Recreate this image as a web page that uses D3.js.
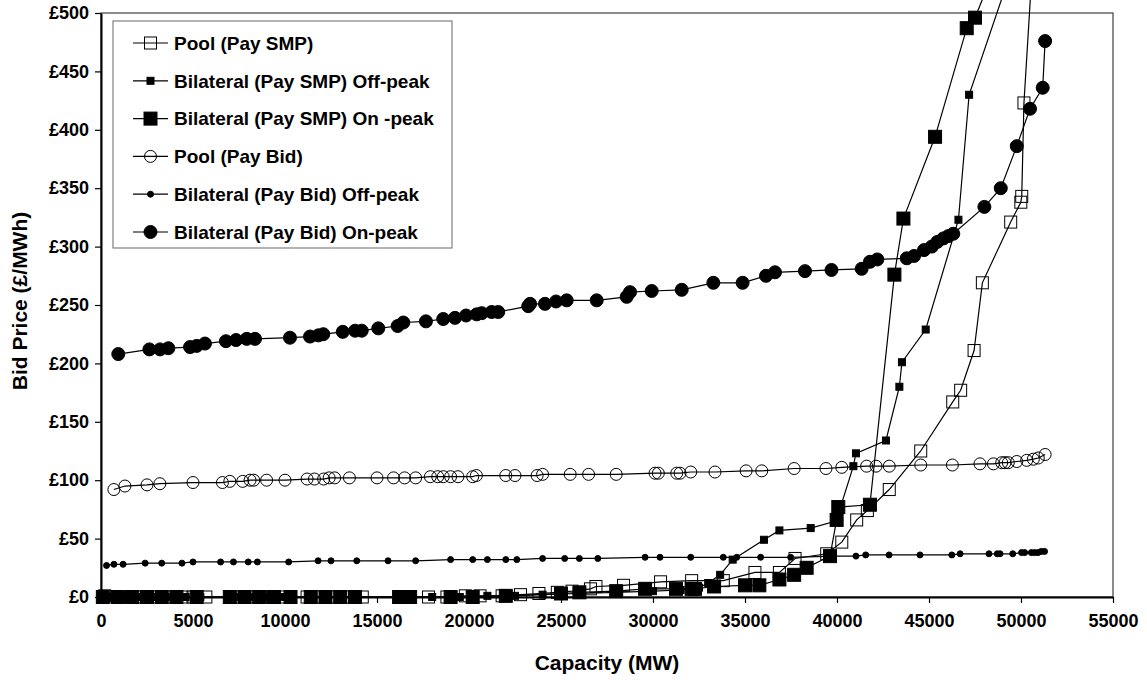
<!DOCTYPE html>
<html>
<head>
<meta charset="utf-8">
<script src="https://cdn.jsdelivr.net/npm/d3@7"></script>
<style>
  body { margin: 0; background: #fff; }
  text { font-family: "Liberation Sans", Arial, sans-serif; font-weight: bold; fill: #000; }
</style>
</head>
<body>
<div class="container"></div>
<script>
// Pool (Pay SMP)
const poolSmpCap = [200, 1000, 1600, 2300, 3000, 3700, 4400, 5000, 5700, 7300, 8000, 8700, 9300, 10000, 11200, 12000, 12800, 13500, 14200, 16300, 17800, 18800, 19800, 20600, 21800, 22800, 23800, 24800, 25600, 26600, 26900, 28400, 30410, 32100, 33820, 35540, 36870, 37720, 39440, 40260, 41070, 41650, 42840, 44550, 46290, 46720, 47450, 47900, 49440, 49990, 50040, 50160, 50850];
const poolSmpPrice = [1, 0, 0, 0, 0, 0, 0, 0, 0, 0, 0, 0, 0, 0, 0, 0, 0, 0, 0, 0, 0, 0, 1, 1, 1, 2, 3, 4, 5, 7, 9, 10, 13, 14, 14, 21, 21, 33, 37, 47, 66, 74, 92, 125, 167, 177, 211, 269, 321, 338, 343, 423, 600];

// Bilateral (Pay SMP) Off-peak
const offSmpCap = [600, 1400, 2200, 3000, 3800, 4600, 5400, 7500, 8200, 9000, 9800, 11500, 12300, 13100, 13900, 16500, 18000, 19500, 21000, 22500, 24000, 26000, 28000, 30000, 31500, 32500, 33000, 33650, 34330, 36030, 36870, 38570, 39950, 40890, 41030, 42660, 43390, 43530, 44820, 46600, 47180, 50850];
const offSmpPrice = [0, 0, 0, 0, 0, 0, 0, 0, 0, 0, 0, 0, 0, 0, 0, 0, 0, 0, 1, 1, 2, 3, 4, 5, 6, 8, 12, 19, 32, 49, 57, 59, 65, 112, 123, 134, 180, 201, 229, 323, 430, 600];

// Bilateral (Pay SMP) On-peak
const onSmpCap = [100, 900, 1700, 2500, 3300, 4100, 5200, 7000, 7800, 8600, 9400, 10300, 11400, 12200, 13000, 13800, 16200, 16800, 19000, 20200, 22000, 25000, 26000, 28000, 29570, 31250, 32100, 32280, 33320, 35000, 35780, 36870, 37670, 38350, 39620, 39980, 40070, 41790, 43120, 43610, 45330, 47050, 47500, 50190];
const onSmpPrice = [0, 0, 0, 0, 0, 0, 0, 0, 0, 0, 0, 0, 0, 0, 0, 0, 0, 0, 0, 0, 1, 3, 4, 5, 7, 7, 7, 7, 9, 10, 10, 15, 19, 25, 35, 66, 77, 79, 276, 324, 394, 487, 496, 600];

// Pool (Pay Bid)
const poolBidCap = [700, 1300, 2500, 3200, 5000, 6600, 7000, 7700, 8100, 8300, 9000, 10000, 11200, 11600, 12100, 12400, 12700, 13500, 15000, 15900, 16500, 17100, 17900, 18300, 18600, 19000, 19400, 20200, 20400, 22000, 22500, 23700, 24000, 25500, 26500, 28000, 30110, 30290, 31290, 31470, 32050, 33370, 35060, 35910, 37670, 39400, 40260, 41610, 42120, 42840, 44550, 46270, 47770, 48500, 48950, 49130, 49310, 49770, 50310, 50670, 50940, 51310];
const poolBidPrice = [92, 95, 96, 97, 98, 98, 99, 99, 100, 100, 100, 100, 101, 101, 101, 102, 102, 102, 102, 102, 102, 102, 103, 103, 103, 103, 103, 103, 104, 104, 104, 104, 105, 105, 105, 105, 106, 106, 106, 106, 107, 107, 108, 108, 110, 110, 111, 112, 112, 112, 113, 113, 114, 114, 115, 115, 115, 116, 117, 118, 119, 122];

// Bilateral (Pay Bid) Off-peak
const offBidCap = [300, 700, 1200, 2400, 3300, 4400, 5000, 6500, 7200, 8000, 8500, 10200, 11800, 12500, 13900, 15600, 17100, 19000, 20200, 21000, 22000, 22600, 24000, 25200, 26000, 27000, 29570, 30380, 32050, 33820, 34550, 35850, 37480, 39800, 41030, 41560, 42830, 44510, 46240, 46690, 48260, 48710, 48860, 49550, 50030, 50200, 50560, 50740, 50920, 51100, 51280];
const offBidPrice = [27, 28, 28, 29, 29, 29, 30, 30, 30, 30, 30, 30, 31, 31, 31, 31, 31, 32, 32, 32, 32, 32, 33, 33, 33, 33, 34, 34, 34, 34, 34, 34, 34, 35, 35, 36, 36, 36, 36, 37, 37, 37, 37, 37, 38, 38, 38, 38, 38, 39, 39];

// Bilateral (Pay Bid) On-peak
const onBidCap = [940, 2630, 3210, 3660, 4840, 5200, 5650, 6790, 7340, 7920, 8370, 10270, 11360, 11810, 12080, 13140, 13810, 14170, 15070, 16120, 16430, 17660, 18600, 19240, 19840, 20420, 20690, 21230, 21590, 23220, 23320, 24130, 24730, 25310, 26940, 28570, 28750, 29930, 31560, 33280, 34870, 36140, 36630, 38260, 39700, 41340, 41790, 42190, 43790, 44190, 44730, 45150, 45450, 45780, 46050, 46320, 48010, 48900, 49770, 50490, 51180, 51310];
const onBidPrice = [208, 212, 212, 213, 214, 215, 217, 219, 220, 221, 221, 222, 223, 224, 225, 227, 228, 228, 230, 232, 235, 236, 238, 239, 241, 242, 243, 244, 244, 249, 251, 251, 253, 254, 254, 257, 261, 262, 263, 269, 269, 275, 278, 279, 280, 281, 287, 289, 290, 292, 297, 300, 304, 307, 309, 311, 334, 350, 386, 418, 436, 476];

const seriesNames = ["Pool (Pay SMP)", "Bilateral (Pay SMP) Off-peak", "Bilateral (Pay SMP) On -peak",
  "Pool (Pay Bid)", "Bilateral (Pay Bid) Off-peak", "Bilateral (Pay Bid) On-peak"];
const xTicks = d3.range(0, 55001, 5000);
const yTicks = d3.range(0, 501, 50);

const width = 1147, height = 685;
const margin = { top: 13, right: 34, bottom: 88, left: 101 };

// marker shape + size per series
const markers = [
  { shape: "square", size: 12, fill: "none" },
  { shape: "square", size: 7, fill: "#000" },
  { shape: "square", size: 13, fill: "#000" },
  { shape: "circle", size: 12, fill: "none" },
  { shape: "circle", size: 6, fill: "#000" },
  { shape: "circle", size: 13, fill: "#000" }
];

const series = [
  [poolSmpCap, poolSmpPrice], [offSmpCap, offSmpPrice], [onSmpCap, onSmpPrice],
  [poolBidCap, poolBidPrice], [offBidCap, offBidPrice], [onBidCap, onBidPrice]
].map((s, i) => ({
  name: seriesNames[i],
  marker: markers[i],
  points: s[0].map((c, j) => ({ cap: c, price: s[1][j] }))
}));

const svg = d3.select(".container")
  .append("svg")
  .attr("width", width)
  .attr("height", height);

const x = d3.scaleLinear().domain([0, 55000]).range([margin.left, width - margin.right]);
const y = d3.scaleLinear().domain([0, 500]).range([height - margin.bottom, margin.top]);

// plot area frame
svg.append("rect")
  .attr("x", x(0)).attr("y", y(500))
  .attr("width", x(55000) - x(0)).attr("height", y(0) - y(500))
  .attr("fill", "none").attr("stroke", "#404040").attr("stroke-width", 1.2);

const xAxis = svg.append("g")
  .attr("transform", `translate(0,${y(0)})`)
  .call(d3.axisBottom(x).tickValues(xTicks).tickSize(6).tickSizeOuter(0).tickPadding(11).tickFormat(d3.format("d")));
const yAxis = svg.append("g")
  .attr("transform", `translate(${x(0)},0)`)
  .call(d3.axisLeft(y).tickValues(yTicks).tickSize(6).tickSizeOuter(0).tickPadding(6).tickFormat(d => "£" + d));

[xAxis, yAxis].forEach(a => {
  a.select(".domain").attr("stroke", "#000").attr("stroke-width", 2);
  a.selectAll(".tick line").attr("stroke", "#000").attr("stroke-width", 1.2);
  a.selectAll("text").style("font-size", "18px");
});

svg.append("text")
  .attr("x", (x(0) + x(55000)) / 2)
  .attr("y", 670)
  .attr("text-anchor", "middle")
  .style("font-size", "21px")
  .text("Capacity (MW)");

svg.append("text")
  .attr("transform", `translate(27,${(y(0) + y(500)) / 2 - 4}) rotate(-90)`)
  .attr("text-anchor", "middle")
  .style("font-size", "21px")
  .text("Bid Price (£/MWh)");

const line = d3.line().x(d => x(d.cap)).y(d => y(d.price));

function drawMarker(g, m, cx, cy) {
  if (m.shape === "square") {
    g.append("rect")
      .attr("x", cx - m.size / 2).attr("y", cy - m.size / 2)
      .attr("width", m.size).attr("height", m.size)
      .attr("fill", m.fill).attr("stroke", "#000").attr("stroke-width", 1);
  } else {
    g.append("circle")
      .attr("cx", cx).attr("cy", cy).attr("r", m.size / 2)
      .attr("fill", m.fill).attr("stroke", "#000").attr("stroke-width", 1);
  }
}

const plot = svg.append("g");
series.forEach(s => {
  const g = plot.append("g");
  g.append("path")
    .datum(s.points)
    .attr("d", line)
    .attr("fill", "none")
    .attr("stroke", "#000")
    .attr("stroke-width", 1.2);
  s.points.forEach(p => drawMarker(g, s.marker, x(p.cap), y(p.price)));
});

// legend
const legend = svg.append("g").attr("transform", "translate(113,21)");
legend.append("rect")
  .attr("width", 339).attr("height", 227)
  .attr("fill", "#fff").attr("stroke", "#808080").attr("stroke-width", 1.2);

series.forEach((s, i) => {
  const ly = 22 + i * 37.8;
  const row = legend.append("g");
  row.append("line")
    .attr("x1", 20).attr("x2", 55).attr("y1", ly).attr("y2", ly)
    .attr("stroke", "#000").attr("stroke-width", 1.2);
  drawMarker(row, s.marker, 37.5, ly);
  row.append("text")
    .attr("x", 61).attr("y", ly)
    .attr("dy", "0.36em")
    .style("font-size", "19px")
    .text(s.name);
});
</script>
</body>
</html>
